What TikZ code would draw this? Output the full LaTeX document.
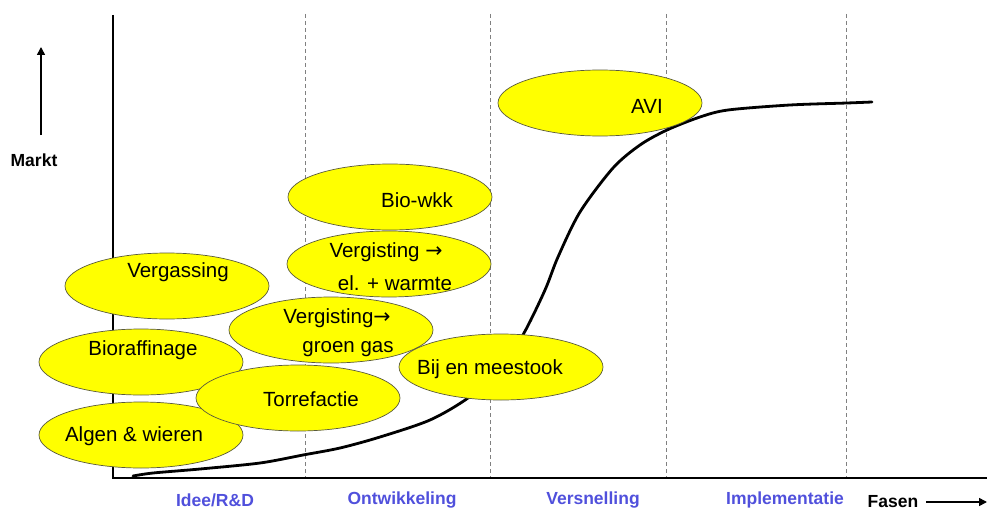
\documentclass[tikz,border=0pt]{standalone}
\usepackage{fontspec}
\setmainfont{Liberation Sans}
\newfontfamily\arrowfont{DejaVu Sans}
\newcommand{\rarr}{{\arrowfont →}}
\usetikzlibrary{shapes.geometric,arrows.meta}
\definecolor{phase}{RGB}{80,80,220}
\definecolor{ellfill}{RGB}{255,255,0}
\definecolor{ellline}{RGB}{90,90,60}
\tikzset{
  blob/.style={ellipse, draw=ellline, line width=0.7pt, fill=ellfill, minimum width=204pt, minimum height=66pt, inner sep=0pt},
  btext/.style={inner sep=0pt, anchor=center, yshift=-2pt, font=\fontsize{20.5}{24}\selectfont},
  phaselabel/.style={inner sep=0pt, anchor=center, text=phase, font=\fontsize{17.5}{20}\selectfont\bfseries},
  axislabel/.style={inner sep=0pt, anchor=center, font=\fontsize{17.5}{20}\selectfont\bfseries},
  divider/.style={draw=gray, dashed, line width=0.7pt, dash pattern=on 4pt off 3pt},
  axis/.style={draw=black, line width=1.6pt},
  growth/.style={draw=black, line width=2.8pt, line cap=round, line join=round},
  pointer/.style={draw=black, line width=1.6pt, -{Triangle[length=8pt,width=8pt]}}
}
\begin{document}
\begin{tikzpicture}[x=1pt,y=-1pt]
\useasboundingbox (0,0) rectangle (987,511);
% dividers
\coordinate (d1t) at (305,14); \coordinate (d1b) at (305,478);
\coordinate (d2t) at (490,14); \coordinate (d2b) at (490,478);
\coordinate (d3t) at (666,14); \coordinate (d3b) at (666,478);
\coordinate (d4t) at (846,14); \coordinate (d4b) at (846,478);
\draw[divider] (d1t) -- (d1b);
\draw[divider] (d2t) -- (d2b);
\draw[divider] (d3t) -- (d3b);
\draw[divider] (d4t) -- (d4b);
% axes
\coordinate (ytop) at (113,15);
\coordinate (origin) at (113,478);
\coordinate (xend) at (987,478);
\draw[axis] (ytop) -- (origin) -- (xend);
% Markt arrow
\coordinate (ma) at (41,135); \coordinate (mb) at (41,47);
\draw[pointer] (ma) -- (mb);
\node[axislabel] (markt) at (34,160) {Markt};
% Fasen
\node[axislabel] (fasen) at (893,502) {Fasen};
\coordinate (fa) at (926,502); \coordinate (fb) at (987,502);
\draw[pointer] (fa) -- (fb);
% phase labels
\node[phaselabel] (p1) at (215,500) {Idee/R\&D};
\node[phaselabel] (p2) at (402,500) {Ontwikkeling};
\node[phaselabel] (p3) at (593,500) {Versnelling};
\node[phaselabel] (p4) at (785,500) {Implementatie};
% growth curve
\draw[growth] plot[smooth, tension=0.5] coordinates {(133,476) (153,473) (200,469) (260,463) (303,455) (340,448) (380,437) (430,420) (468,398) (500,370) (524,333) (545,290) (558,257) (580,212) (613,168) (640,145) (667,130) (700,117) (728,110) (790,105) (847,103) (872,102)};
% ellipses
\node[blob] (vergassing) at (167,286) {};
\node[btext] (vergassing-t) at (178,270) {Vergassing};
\node[blob] (bioraf) at (141,362) {};
\node[btext] (bioraf-t) at (143,348) {Bioraffinage};
\node[blob] (algen) at (141,435) {};
\node[btext] (algen-t) at (134,434) {Algen \& wieren};
\node[blob] (torre) at (298,398) {};
\node[btext] (torre-t) at (311,397) {Torrefactie};
\node[blob] (groen) at (331,330) {};
\node[btext] (groen-t1) at (337,316) {Vergisting\rarr};
\node[btext] (groen-t2) at (348,347) {groen gas};
\node[blob] (bij) at (501,367) {};
\node[btext] (bij-t) at (490,367) {Bij en meestook};
\node[blob] (biowkk) at (390,197) {};
\node[btext] (biowkk-t) at (417,198) {Bio-wkk};
\node[blob] (elw) at (389,264) {};
\node[btext] (elw-t1) at (386,250) {Vergisting \rarr};
\node[btext] (elw-t2) at (395,281) {el. + warmte};
\node[blob] (avi) at (600,103) {};
\node[btext] (avi-t) at (647,104) {AVI};
\end{tikzpicture}
\end{document}
